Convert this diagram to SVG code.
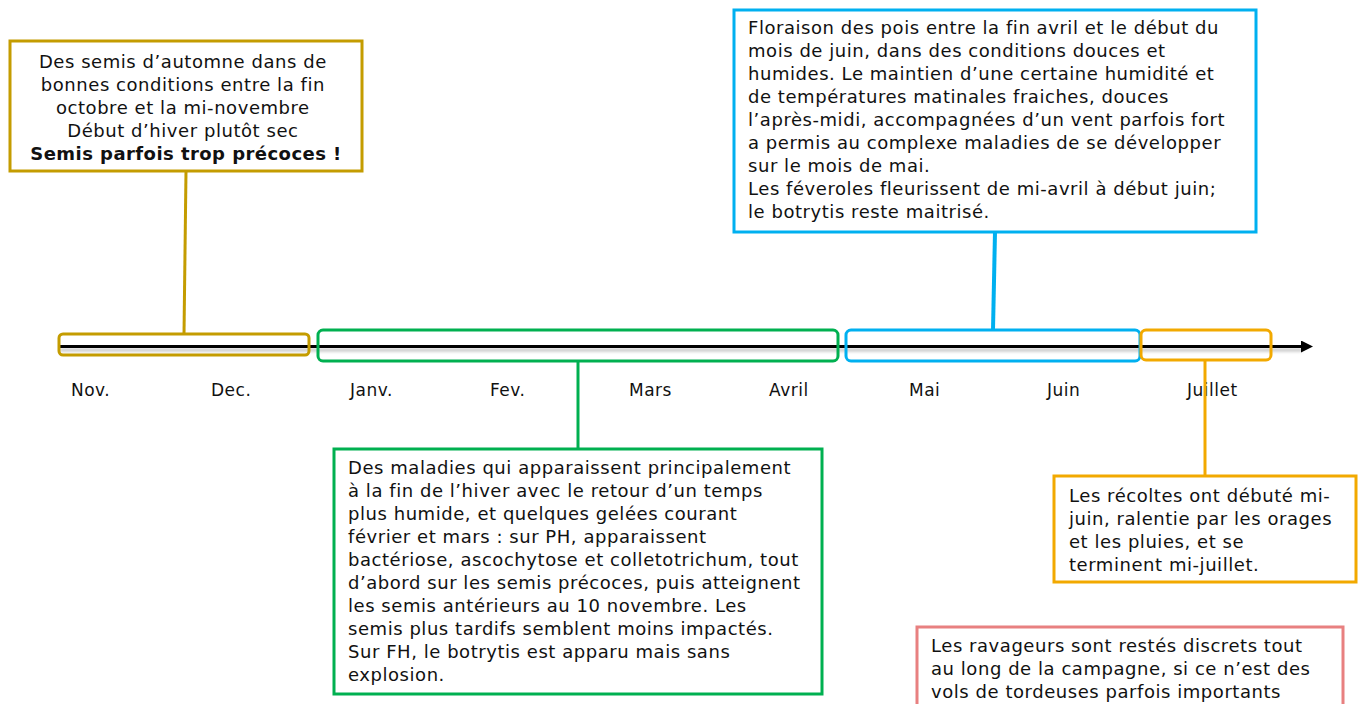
<svg xmlns="http://www.w3.org/2000/svg" width="1359" height="704" viewBox="0 0 1359 704">
<defs>
<style>
text{font-family:"DejaVu Sans","Verdana",sans-serif;font-size:18px;letter-spacing:0.55px;fill:#111}
.m{font-size:17px;letter-spacing:0.5px}
.b{font-weight:bold;letter-spacing:0.45px}
.box{fill:#fff;stroke-width:3}
.seg{fill:none;stroke-width:3}
.gold{stroke:#C49C00}
.green{stroke:#00B050}
.blue{stroke:#00B0F0}
.orange{stroke:#F2A900}
.pink{stroke:#E88080}
</style>
<marker id="arr" markerWidth="13" markerHeight="12" refX="1" refY="6" orient="auto" markerUnits="userSpaceOnUse">
<path d="M0,0 L12,6 L0,12 Z" fill="#000"/>
</marker>
<filter id="blur" filterUnits="userSpaceOnUse" x="0" y="320" width="1359" height="60">
<feGaussianBlur stdDeviation="1.5"/>
</filter>
</defs>
<rect width="1359" height="704" fill="#fff"/>

<g id="timeline">
<line x1="60" y1="350" x2="1302" y2="350" stroke="#888" stroke-opacity="0.5" stroke-width="3" filter="url(#blur)"/>
<line x1="60" y1="346.5" x2="1302" y2="346.5" stroke="#000" stroke-width="3" marker-end="url(#arr)"/>
</g>

<g id="periods">
<rect class="seg gold" x="59" y="334" width="250" height="21" rx="4"/>
<rect class="seg green" x="318" y="330" width="520" height="31" rx="5"/>
<rect class="seg blue" x="846" y="330" width="294" height="31" rx="5"/>
<rect class="seg orange" x="1141" y="330" width="130" height="30" rx="5"/>
</g>

<g id="months">
<text class="m" x="71" y="396">Nov.</text>
<text class="m" x="211" y="396">Dec.</text>
<text class="m" x="350" y="396">Janv.</text>
<text class="m" x="490" y="396">Fev.</text>
<text class="m" x="629" y="396">Mars</text>
<text class="m" x="769" y="396">Avril</text>
<text class="m" x="909" y="396">Mai</text>
<text class="m" x="1047" y="396">Juin</text>
<text class="m" x="1187" y="396">Juillet</text>
</g>

<g id="connectors">
<line class="gold" x1="186" y1="171" x2="184" y2="334" stroke-width="3"/>
<line class="green" x1="578" y1="361" x2="578" y2="449" stroke-width="3"/>
<line class="blue" x1="995" y1="232" x2="993" y2="330" stroke-width="4"/>
<line class="orange" x1="1205" y1="360" x2="1205" y2="476" stroke-width="3"/>
</g>

<g id="node-automne">
<rect class="box gold" x="10" y="41" width="352" height="130"/>
<text text-anchor="middle">
<tspan x="186" y="68">Des semis d’automne dans de</tspan>
<tspan x="186" y="91">bonnes conditions entre la fin</tspan>
<tspan x="186" y="114">octobre et la mi-novembre</tspan>
<tspan x="186" y="137">Début d’hiver plutôt sec</tspan>
<tspan x="186" y="160" class="b">Semis parfois trop précoces !</tspan>
</text>
</g>

<g id="node-floraison">
<rect class="box blue" x="734" y="10" width="522" height="222"/>
<text>
<tspan x="748" y="34">Floraison des pois entre la fin avril et le début du</tspan>
<tspan x="748" y="57">mois de juin, dans des conditions douces et</tspan>
<tspan x="748" y="80">humides. Le maintien d’une certaine humidité et</tspan>
<tspan x="748" y="103">de températures matinales fraiches, douces</tspan>
<tspan x="748" y="126">l’après-midi, accompagnées d’un vent parfois fort</tspan>
<tspan x="748" y="149">a permis au complexe maladies de se développer</tspan>
<tspan x="748" y="172">sur le mois de mai.</tspan>
<tspan x="748" y="195">Les féveroles fleurissent de mi-avril à début juin;</tspan>
<tspan x="748" y="218">le botrytis reste maitrisé.</tspan>
</text>
</g>

<g id="node-maladies">
<rect class="box green" x="334" y="449" width="488" height="245"/>
<text>
<tspan x="348" y="474">Des maladies qui apparaissent principalement</tspan>
<tspan x="348" y="497">à la fin de l’hiver avec le retour d’un temps</tspan>
<tspan x="348" y="520">plus humide, et quelques gelées courant</tspan>
<tspan x="348" y="543">février et mars : sur PH, apparaissent</tspan>
<tspan x="348" y="566">bactériose, ascochytose et colletotrichum, tout</tspan>
<tspan x="348" y="589">d’abord sur les semis précoces, puis atteignent</tspan>
<tspan x="348" y="612">les semis antérieurs au 10 novembre. Les</tspan>
<tspan x="348" y="635">semis plus tardifs semblent moins impactés.</tspan>
<tspan x="348" y="658">Sur FH, le botrytis est apparu mais sans</tspan>
<tspan x="348" y="681">explosion.</tspan>
</text>
</g>

<g id="node-recoltes">
<rect class="box orange" x="1054" y="476" width="302" height="106"/>
<text>
<tspan x="1069" y="502">Les récoltes ont débuté mi-</tspan>
<tspan x="1069" y="525">juin, ralentie par les orages</tspan>
<tspan x="1069" y="548">et les pluies, et se</tspan>
<tspan x="1069" y="571">terminent mi-juillet.</tspan>
</text>
</g>

<g id="node-ravageurs">
<rect class="box pink" x="917" y="627" width="426" height="90"/>
<text>
<tspan x="931" y="652">Les ravageurs sont restés discrets tout</tspan>
<tspan x="931" y="675">au long de la campagne, si ce n’est des</tspan>
<tspan x="931" y="698">vols de tordeuses parfois importants</tspan>
</text>
</g>
</svg>
